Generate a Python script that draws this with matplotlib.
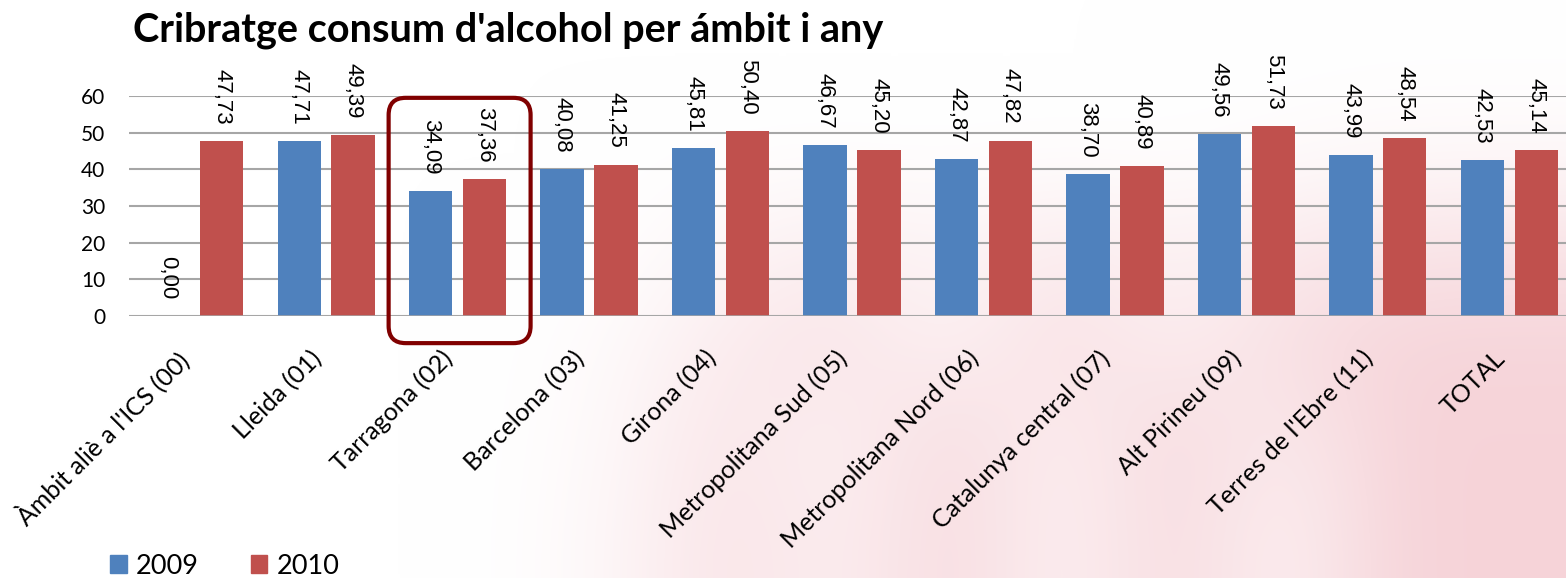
import numpy as np
import matplotlib.pyplot as plt
from matplotlib.patches import FancyBboxPatch, Patch

# dades: percentatge de cribratge per àmbit
ambits = ["Àmbit aliè a l'ICS (00)", "Lleida (01)", "Tarragona (02)", "Barcelona (03)",
          "Girona (04)", "Metropolitana Sud (05)", "Metropolitana Nord (06)",
          "Catalunya central (07)", "Alt Pirineu (09)", "Terres de l'Ebre (11)", "TOTAL"]
any_2009 = [0.00, 47.71, 34.09, 40.08, 45.81, 46.67, 42.87, 38.70, 49.56, 43.99, 42.53]
any_2010 = [47.73, 49.39, 37.36, 41.25, 50.40, 45.20, 47.82, 40.89, 51.73, 48.54, 45.14]
ambit_destacat = 2

blau = "#4F81BD"
vermell = "#C0504D"
font_cos = ["Lato", "DejaVu Sans"]
font_val = ["Liberation Sans", "DejaVu Sans"]

W, H = 1566, 578
fig = plt.figure(figsize=(W / 100, H / 100), dpi=100)
fig.patch.set_facecolor("white")

# fons rosat difuminat
fons = fig.add_axes([0, 0, 1, 1], zorder=-5)
intensitat = np.array([
    [0, 0, 0, 0, 0, 0, 0, 0, 0, 0, 0, 0, 0, 0],
    [0, 0, 0, 0, 0, 0, 0, 0, 0, 0, 0, 0.05, 0.1, 0.1],
    [0, 0, 0, 0, 0, 0, 0.2, 0.35, 0.2, 0.45, 0.25, 0.45, 0.55, 0.6],
    [0, 0, 0, 0, 0, 0.1, 0.45, 0.65, 0.25, 0.75, 0.35, 0.75, 0.95, 0.95],
    [0, 0, 0, 0, 0, 0.15, 0.6, 0.3, 0.8, 0.35, 0.85, 0.45, 1.0, 1.0],
    [0, 0, 0, 0, 0, 0.2, 0.65, 0.35, 0.85, 0.3, 0.85, 0.3, 1.0, 1.0],
])
rosa = np.array([0.965, 0.83, 0.85])
img = 1 - intensitat[..., None] * (1 - rosa)
fons.imshow(img, extent=[0, 1, 0, 1], aspect="auto", interpolation="bicubic")
fons.axis("off")

ax = fig.add_axes([129 / W, 262 / H, 1446 / W, 220 / H])
ax.patch.set_alpha(0)

x = np.arange(len(ambits))
amplada = 0.33
desp = 0.205
b1 = ax.bar(x - desp, any_2009, amplada, color=blau, zorder=3)
b2 = ax.bar(x + desp, any_2010, amplada, color=vermell, zorder=3)

for barres in (b1, b2):
    for b in barres:
        v = b.get_height()
        ax.annotate(f"{v:.2f}".replace(".", ","), (b.get_x() + b.get_width() / 2, v),
                    xytext=(0, 12), textcoords="offset points", rotation=270,
                    ha="center", va="bottom", fontsize=16, family=font_val,
                    annotation_clip=False)

ax.set_xlim(-0.5, len(ambits) - 0.5)
ax.set_ylim(0, 60)
ax.set_yticks(range(0, 61, 10))
ax.yaxis.grid(True, color="#A6A6A6", lw=1.5, zorder=0)
ax.set_axisbelow(True)
for s in ax.spines.values():
    s.set_visible(False)
ax.axhline(0, color="#A6A6A6", lw=1.8, zorder=4)
ax.tick_params(axis="y", length=0, pad=17, labelsize=15)
ax.tick_params(axis="x", length=0, pad=22)
for t in ax.get_yticklabels():
    t.set_family(font_cos)
ax.set_xticks(x)
ax.set_xticklabels(ambits, rotation=45, ha="right", fontsize=18, family=font_cos)

# requadre al voltant de Tarragona
marc = FancyBboxPatch((ambit_destacat - 0.525, -7.4), 1.08, 66.9,
                      boxstyle="round,pad=0,rounding_size=0.13",
                      mutation_aspect=36, transform=ax.transData,
                      fill=False, ec="#800000", lw=3, clip_on=False, zorder=5)
ax.add_patch(marc)

fig.text(133 / W, 1 - 30 / H, "Cribratge consum d'alcohol per ámbit i any",
         fontsize=28.5, fontweight="bold", family=font_cos, ha="left", va="center")

fig.legend(handles=[Patch(color=blau, label="2009"), Patch(color=vermell, label="2010")],
           loc="center left", bbox_to_anchor=(86 / W, 1 - 566 / H), ncol=2,
           frameon=False, handlelength=0.6, handleheight=0.6, handletextpad=0.35,
           columnspacing=1.9, prop={"family": font_cos, "size": 19.5})

fig.savefig("out.png", dpi=100)
